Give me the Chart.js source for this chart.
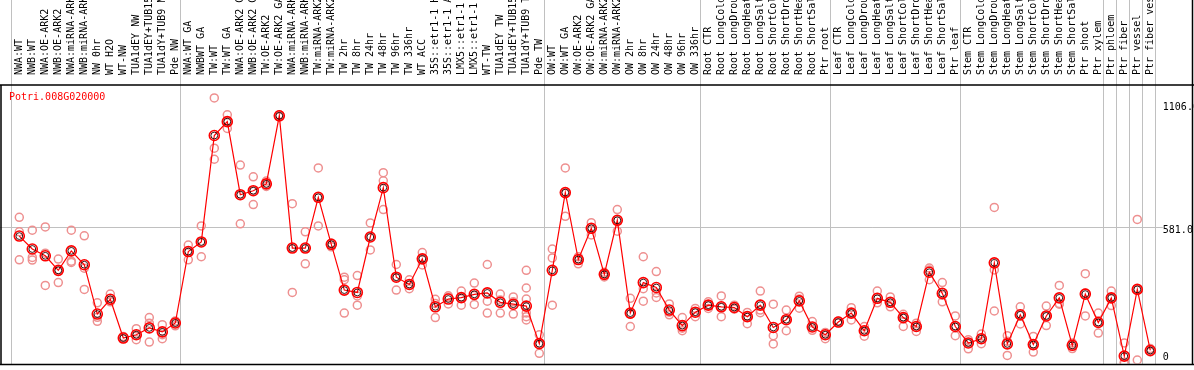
<!DOCTYPE html>
<html>
<head>
<meta charset="utf-8">
<script src="https://cdn.jsdelivr.net/npm/chart.js@4/dist/chart.umd.min.js"></script>
<style>
  body { margin: 0; background: #fff; }
  #wrap { width: 1194px; height: 370px; }
</style>
</head>
<body>
<div id="wrap"><canvas id="chart"></canvas></div>
<script>
// sample names, in plot order
const labels = [
  'NWA:WT', 'NWB:WT', 'NWA:OE-ARK2', 'NWB:OE-ARK2', 'NWA:miRNA-ARK2', 'NWB:miRNA-ARK2',
  'NW 0hr', 'WT H2O', 'WT-NW', 'TUA1dEY NW', 'TUA1dEY+TUB15 NW', 'TUA1dY+TUB9 NW', 'Pde NW',
  'NWA:WT GA', 'NWBWT GA', 'TW:WT', 'TW:WT GA', 'NWA:OE-ARK2 GA', 'NWB:OE-ARK2 GA',
  'TW:OE-ARK2', 'TW:OE-ARK2 GA', 'NWA:miRNA-ARK2', 'NWB:miRNA-ARK2', 'TW:miRNA-ARK2', 'TW:miRNA-ARK2',
  'TW 2hr', 'TW 8hr', 'TW 24hr', 'TW 48hr', 'TW 96hr', 'TW 336hr', 'WT ACC',
  '35S::etr1-1 H2O', '35S::etr1-1 ACC', 'LMX5::etr1-1 H2O', 'LMX5::etr1-1 ACC', 'WT-TW',
  'TUA1dEY TW', 'TUA1dEY+TUB15 TW', 'TUA1dY+TUB9 TW', 'Pde TW',
  'OW:WT', 'OW:WT GA', 'OW:OE-ARK2', 'OW:OE-ARK2 GA', 'OW:miRNA-ARK2', 'OW:miRNA-ARK2',
  'OW 2hr', 'OW 8hr', 'OW 24hr', 'OW 48hr', 'OW 96hr', 'OW 336hr',
  'Root CTR', 'Root LongCold', 'Root LongDrought', 'Root LongHeat', 'Root LongSalt',
  'Root ShortCold', 'Root ShortDrought', 'Root ShortHeat', 'Root ShortSalt', 'Ptr root',
  'Leaf CTR', 'Leaf LongCold', 'Leaf LongDrought', 'Leaf LongHeat', 'Leaf LongSalt',
  'Leaf ShortCold', 'Leaf ShortDrought', 'Leaf ShortHeat', 'Leaf ShortSalt', 'Ptr leaf',
  'Stem CTR', 'Stem LongCold', 'Stem LongDrought', 'Stem LongHeat', 'Stem LongSalt',
  'Stem ShortCold', 'Stem ShortDrought', 'Stem ShortHeat', 'Stem ShortSalt', 'Ptr shoot', 'Ptr xylem',
  'Ptr phloem', 'Ptr fiber', 'Ptr vessel', 'Ptr fiber vessel'
];
const groupSizes = [13, 28, 12, 10, 10, 11, 1, 1, 1, 1];

const geneName = 'Potri.008G020000';
const yTicks = [0, 581.0, 1106.0];
const yMax = 1185;

// mean expression per sample
const means = [
  542, 487, 458, 396, 479, 420, 210, 273, 108, 122, 151, 134, 172,
  476, 517, 970, 1029, 718, 735, 764, 1054, 491, 491, 707, 507, 312, 302, 538, 748,
  367, 336, 445, 241, 274, 280, 294, 300, 260, 252, 244, 84,
  396, 727, 442, 575, 379, 609, 214, 344, 323, 227, 161, 218,
  248, 241, 238, 199, 248, 153, 186, 266, 155, 122,
  176, 214, 139, 277, 260, 195, 157, 388, 298, 157,
  87, 105, 428, 83, 207, 80, 202, 279, 77, 295, 174,
  279, 31, 315, 55
];

// individual replicates
const rep1 = [
  622, 567, 581, 444, 567, 543, 258, 295, 115, 148, 195, 165, 181,
  504, 585, 1130, 1058, 844, 794, 776, 1058, 680, 560, 832, 512, 367, 374, 598, 812,
  421, 356, 472, 273, 288, 308, 342, 421, 295, 283, 396, 122,
  487, 832, 454, 599, 388, 655, 277, 454, 391, 253, 195, 234,
  262, 287, 248, 217, 308, 252, 227, 286, 178, 132,
  181, 237, 157, 308, 283, 209, 171, 406, 344, 202,
  101, 125, 664, 118, 241, 115, 244, 332, 87, 382, 214,
  308, 87, 613, 63
];
const rep2 = [
  560, 451, 469, 344, 435, 405, 196, 262, 105, 101, 171, 122, 160,
  441, 454, 916, 1000, 594, 676, 753, 1050, 302, 424, 585, 496, 356, 287, 483, 777,
  312, 318, 419, 195, 253, 248, 251, 265, 214, 210, 321, 43,
  449, 626, 424, 547, 368, 563, 157, 318, 281, 207, 139, 199,
  234, 199, 231, 169, 227, 118, 139, 235, 141, 105,
  172, 185, 116, 258, 241, 157, 136, 356, 262, 118,
  62, 84, 398, 34, 168, 48, 161, 252, 63, 202, 129,
  246, 5, 14, 49
];
const rep3 = [
  441, 440, 332, 398, 430, 315, 179, 269, 108, 122, 91, 105, 172,
  476, 517, 869, 1029, 718, 735, 764, 1054, 491, 491, 707, 507, 214, 248, 538, 655,
  367, 336, 445, 255, 282, 280, 289, 214, 270, 262, 274, 84,
  248, 724, 442, 575, 379, 609, 210, 265, 300, 218, 150, 218,
  248, 241, 238, 199, 216, 83, 186, 274, 155, 122,
  176, 214, 139, 277, 260, 195, 157, 398, 290, 157,
  87, 105, 223, 94, 207, 80, 202, 255, 77, 300, 174,
  279, 0, 315, 55
];
// TUA1dY+TUB9 TW has extra replicates
const extraRepIndex = 39;
const extraReps = [215, 199, 185];

const repColor = '#ee9090';
const lineColor = '#ff0000';
const gridGray = '#c0c0c0';
const monoFont = '"DejaVu Sans Mono", "Liberation Mono", monospace';

function repDataset(values) {
  return {
    data: values,
    showLine: false,
    pointStyle: 'circle',
    pointRadius: 4,
    pointBorderWidth: 1.5,
    pointBorderColor: repColor,
    pointBackgroundColor: 'rgba(0,0,0,0)',
    order: 3
  };
}

const extraSets = extraReps.map(v => repDataset(labels.map((_, i) => i === extraRepIndex ? v : null)));

// gray separators, frame, title and y labels
const framePlugin = {
  id: 'frame',
  beforeDatasetsDraw(chart) {
    const { ctx, scales: { x, y } } = chart;
    const step = (x.right - x.left) / labels.length;
    ctx.save();
    ctx.strokeStyle = gridGray;
    ctx.lineWidth = 1;
    let k = 0;
    const bounds = [0];
    groupSizes.forEach(n => { k += n; bounds.push(k); });
    bounds.forEach(b => {
      const px = Math.round(x.left + b * step - 2.1) + 0.5;
      ctx.beginPath();
      ctx.moveTo(px, 0);
      ctx.lineTo(px, y.bottom + 1);
      ctx.stroke();
    });
    const gy = Math.round(y.getPixelForValue(yTicks[1])) + 0.5;
    ctx.beginPath();
    ctx.moveTo(0, gy);
    ctx.lineTo(x.right + 6, gy);
    ctx.stroke();
    ctx.restore();
  },
  afterDraw(chart) {
    const { ctx, scales: { x, y }, width } = chart;
    ctx.save();
    ctx.strokeStyle = '#000';
    ctx.lineWidth = 1.5;
    ctx.beginPath();
    ctx.moveTo(0, x.bottom);
    ctx.lineTo(width, x.bottom);
    ctx.moveTo(0, y.bottom + 1);
    ctx.lineTo(width, y.bottom + 1);
    ctx.moveTo(1, x.bottom);
    ctx.lineTo(1, y.bottom + 1);
    ctx.moveTo(width - 1.5, 0);
    ctx.lineTo(width - 1.5, y.bottom + 1);
    ctx.stroke();

    ctx.font = '10px ' + monoFont;
    ctx.textBaseline = 'middle';
    ctx.textAlign = 'left';
    ctx.fillStyle = lineColor;
    ctx.fillText(geneName, 9, 97);

    ctx.fillStyle = '#000';
    yTicks.forEach(v => {
      const py = Math.min(y.getPixelForValue(v) + 4, y.bottom - 6);
      ctx.fillText(v === 0 ? '0' : v.toFixed(1), x.right + 6, py);
    });
    ctx.restore();
  }
};

new Chart(document.getElementById('chart'), {
  type: 'line',
  data: {
    labels: labels,
    datasets: [
      {
        data: means,
        borderColor: lineColor,
        borderWidth: 1.2,
        tension: 0,
        pointStyle: 'circle',
        pointRadius: 5,
        pointBorderWidth: 1.6,
        pointBorderColor: lineColor,
        pointBackgroundColor: 'rgba(0,0,0,0)',
        order: 2
      },
      {
        data: means,
        showLine: false,
        pointStyle: 'circle',
        pointRadius: 3.4,
        pointBorderWidth: 0.9,
        pointBorderColor: '#200000',
        pointBackgroundColor: 'rgba(0,0,0,0)',
        order: 1
      },
      repDataset(rep1),
      repDataset(rep2),
      repDataset(rep3),
      ...extraSets
    ]
  },
  options: {
    responsive: true,
    maintainAspectRatio: false,
    animation: false,
    layout: { padding: { left: 12.8, right: 0, top: 0, bottom: 2.7 } },
    plugins: {
      legend: { display: false },
      tooltip: { enabled: false },
      title: { display: false }
    },
    scales: {
      x: {
        type: 'category',
        position: 'top',
        offset: true,
        grid: { display: false },
        border: { display: false },
        afterFit: s => { s.height = 85; },
        ticks: {
          autoSkip: false,
          minRotation: 90,
          maxRotation: 90,
          padding: 2,
          labelOffset: 12,
          color: '#000',
          font: { family: monoFont, size: 10 },
          callback: (v, i) => labels[i].slice(0, 14)
        }
      },
      y: {
        position: 'right',
        min: 0,
        max: yMax,
        grid: { display: false },
        border: { display: false },
        ticks: { display: false },
        afterFit: s => { s.width = 37.2; }
      }
    }
  },
  plugins: [framePlugin]
});
</script>
</body>
</html>
